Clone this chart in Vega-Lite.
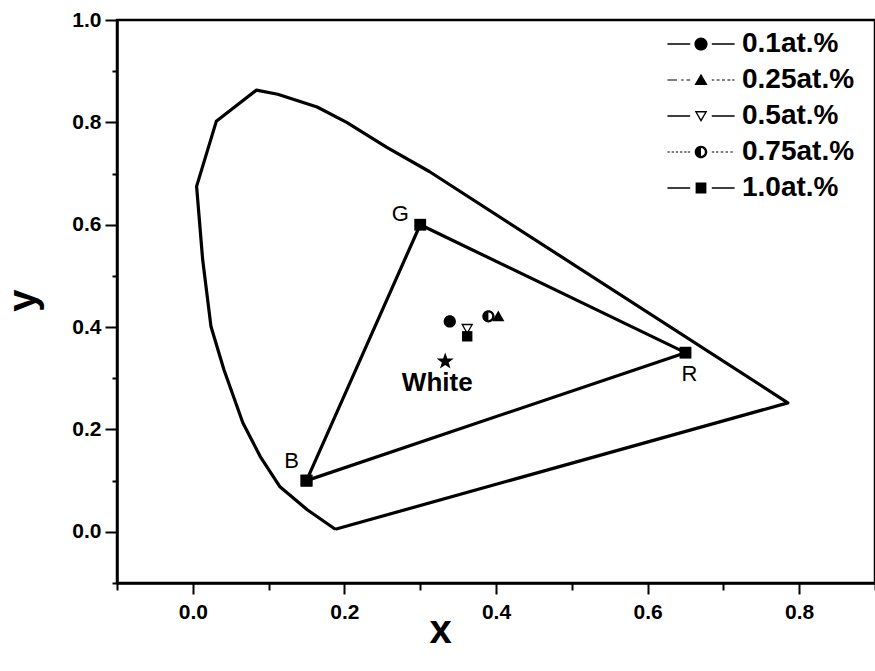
{
  "$schema": "https://vega.github.io/schema/vega-lite/v6.json",
  "autosize": "none",
  "padding": {"left": 117, "top": 20, "right": 0, "bottom": 88},
  "width": 758,
  "height": 563,
  "background": "white",
  "config": {
    "view": {"stroke": "black", "strokeWidth": 2.5},
    "font": "Liberation Sans",
    "axis": {"grid": false, "domainColor": "black", "domainWidth": 2.5, "tickColor": "black", "tickWidth": 2, "labelColor": "black", "titleColor": "black", "labelFont": "Liberation Sans", "labelFontWeight": "bold", "titleFont": "Liberation Sans", "titleFontWeight": "bold"}
  },
  "datasets": {
    "locus": [
      {"i": 0, "x": 0.188, "y": 0.005},
      {"i": 1, "x": 0.151, "y": 0.043},
      {"i": 2, "x": 0.115, "y": 0.088},
      {"i": 3, "x": 0.089, "y": 0.147},
      {"i": 4, "x": 0.066, "y": 0.213},
      {"i": 5, "x": 0.041, "y": 0.317},
      {"i": 6, "x": 0.024, "y": 0.401},
      {"i": 7, "x": 0.013, "y": 0.532},
      {"i": 8, "x": 0.005, "y": 0.675},
      {"i": 9, "x": 0.031, "y": 0.802},
      {"i": 10, "x": 0.084, "y": 0.863},
      {"i": 11, "x": 0.112, "y": 0.855},
      {"i": 12, "x": 0.164, "y": 0.830},
      {"i": 13, "x": 0.203, "y": 0.800},
      {"i": 14, "x": 0.256, "y": 0.751},
      {"i": 15, "x": 0.312, "y": 0.704},
      {"i": 16, "x": 0.785, "y": 0.252},
      {"i": 17, "x": 0.188, "y": 0.005}
    ],
    "gamut": [
      {"i": 0, "name": "B", "x": 0.15, "y": 0.10},
      {"i": 1, "name": "G", "x": 0.30, "y": 0.60},
      {"i": 2, "name": "R", "x": 0.65, "y": 0.35},
      {"i": 3, "name": "B", "x": 0.15, "y": 0.10}
    ],
    "samples": [
      {"series": "0.1at.%", "x": 0.339, "y": 0.411},
      {"series": "0.25at.%", "x": 0.403, "y": 0.421},
      {"series": "0.5at.%", "x": 0.362, "y": 0.397},
      {"series": "0.75at.%", "x": 0.390, "y": 0.421},
      {"series": "1.0at.%", "x": 0.362, "y": 0.382}
    ],
    "white": [{"label": "White", "x": 0.333, "y": 0.333}]
  },
  "encoding": {
    "x": {"field": "x", "type": "quantitative", "scale": {"domain": [-0.1, 0.9], "nice": false, "zero": false},
      "axis": {"values": [-0.1, 0, 0.1, 0.2, 0.3, 0.4, 0.5, 0.6, 0.7, 0.8, 0.9], "labelExpr": "round(datum.value*10) % 2 == 0 ? format(datum.value, '.1f') : ''", "tickSize": {"condition": {"test": "round(datum.value*10) % 2 == 0", "value": 11}, "value": 7}, "labelFontSize": 21, "labelPadding": 7, "title": "x", "titleFontSize": 40, "titleX": 323, "titleY": 47, "titleBaseline": "middle", "titleAnchor": "middle"}},
    "y": {"field": "y", "type": "quantitative", "scale": {"domain": [-0.1, 1.0], "nice": false, "zero": false},
      "axis": {"values": [-0.1, 0, 0.1, 0.2, 0.3, 0.4, 0.5, 0.6, 0.7, 0.8, 0.9, 1.0], "labelExpr": "round(datum.value*10) % 2 == 0 ? format(datum.value, '.1f') : ''", "tickSize": {"condition": {"test": "round(datum.value*10) % 2 == 0", "value": 12}, "value": 5}, "labelFontSize": 21, "labelPadding": 4, "title": "y", "titleFontSize": 40, "titleX": -74, "titleY": 280, "titleAngle": -90}}
  },
  "layer": [
    {"data": {"name": "locus"}, "mark": {"type": "line", "color": "black", "strokeWidth": 3.2, "strokeJoin": "round"}, "encoding": {"order": {"field": "i", "type": "quantitative"}}},
    {"data": {"name": "gamut"}, "mark": {"type": "line", "color": "black", "strokeWidth": 3.2}, "encoding": {"order": {"field": "i", "type": "quantitative"}}},
    {"data": {"name": "gamut"}, "mark": {"type": "point", "shape": "square", "filled": true, "color": "black", "opacity": 1, "size": 140}},
    {"data": {"name": "gamut"}, "transform": [{"filter": "datum.name == 'G' && datum.i == 1"}], "mark": {"type": "text", "fontSize": 22, "dx": -20, "dy": -11, "color": "black"}, "encoding": {"text": {"field": "name"}}},
    {"data": {"name": "gamut"}, "transform": [{"filter": "datum.name == 'R'"}], "mark": {"type": "text", "fontSize": 22, "dx": 4, "dy": 21, "color": "black"}, "encoding": {"text": {"field": "name"}}},
    {"data": {"name": "gamut"}, "transform": [{"filter": "datum.name == 'B' && datum.i == 0"}], "mark": {"type": "text", "fontSize": 22, "dx": -15, "dy": -20, "color": "black"}, "encoding": {"text": {"field": "name"}}},
    {"data": {"name": "white"}, "mark": {"type": "point", "shape": "M0,-1 L0.235,-0.324 L0.951,-0.309 L0.380,0.124 L0.588,0.809 L0,0.4 L-0.588,0.809 L-0.380,0.124 L-0.951,-0.309 L-0.235,-0.324 Z", "filled": true, "color": "black", "opacity": 1, "size": 320}},
    {"data": {"name": "white"}, "mark": {"type": "text", "fontSize": 26, "fontWeight": "bold", "dx": -8, "dy": 22, "color": "black"}, "encoding": {"text": {"field": "label"}}},
    {"data": {"name": "samples"}, "mark": {"type": "point", "filled": true, "color": "black", "opacity": 1, "size": 150},
      "encoding": {"shape": {"field": "series", "type": "nominal", "legend": null,
        "scale": {"domain": ["0.1at.%", "0.25at.%", "0.5at.%", "0.75at.%", "1.0at.%"],
          "range": ["M1,0 A1,1 0 1,1 -1,0 A1,1 0 1,1 1,0 Z", "M0,-0.95 L1,0.8 L-1,0.8 Z", "M-1,-0.8 L1,-0.8 L0,0.95 Z M-0.62,-0.56 L0,0.55 L0.62,-0.56 Z", "M0,-1 A1,1 0 0,0 0,1 Z M0,-1 A1,1 0 0,1 0,1 L0,0.62 A0.62,0.62 0 0,0 0,-0.62 Z", "M-0.85,-0.85 H0.85 V0.85 H-0.85 Z"]}}}},
    {"data": {"name": "samples"}, "mark": {"type": "point", "filled": true, "color": "black", "opacity": 0, "size": 144},
      "encoding": {"shape": {"field": "series", "type": "nominal",
        "scale": {"domain": ["0.1at.%", "0.25at.%", "0.5at.%", "0.75at.%", "1.0at.%"],
          "range": [
            "M-5.6,-0.12 H-1.8 V0.12 H-5.6 Z M1.8,-0.12 H5.6 V0.12 H1.8 Z M1.1,0 A1.1,1.1 0 1,1 -1.1,0 A1.1,1.1 0 1,1 1.1,0 Z",
            "M-5.6,-0.1 H-4 V0.1 H-5.6 Z M-3.3,-0.1 H-2.9 V0.1 H-3.3 Z M-2.4,-0.1 H-1.8 V0.1 H-2.4 Z M1.8,-0.1 H2.2 V0.1 H1.8 Z M2.6,-0.1 H3.1 V0.1 H2.6 Z M3.5,-0.1 H4 V0.1 H3.5 Z M4.4,-0.1 H4.9 V0.1 H4.4 Z M5.2,-0.1 H5.6 V0.1 H5.2 Z M0,-1.05 L1.1,0.85 L-1.1,0.85 Z",
            "M-5.6,-0.12 H-1.8 V0.12 H-5.6 Z M1.8,-0.12 H5.6 V0.12 H1.8 Z M-1.05,-0.85 L1.05,-0.85 L0,1 Z M-0.66,-0.6 L0,0.55 L0.66,-0.6 Z",
            "M-5.6,-0.08 H-5.2 V0.08 H-5.6 Z M-4.9,-0.08 H-4.5 V0.08 H-4.9 Z M-4.2,-0.08 H-3.8 V0.08 H-4.2 Z M-3.5,-0.08 H-3.1 V0.08 H-3.5 Z M-2.8,-0.08 H-2.4 V0.08 H-2.8 Z M-2.2,-0.08 H-1.8 V0.08 H-2.2 Z M1.8,-0.08 H2.2 V0.08 H1.8 Z M2.5,-0.08 H2.9 V0.08 H2.5 Z M3.3,-0.08 H3.7 V0.08 H3.3 Z M4.1,-0.08 H4.5 V0.08 H4.1 Z M4.9,-0.08 H5.3 V0.08 H4.9 Z M0,-1.05 A1.05,1.05 0 0,0 0,1.05 Z M0,-1.05 A1.05,1.05 0 0,1 0,1.05 L0,0.65 A0.65,0.65 0 0,0 0,-0.65 Z",
            "M-5.6,-0.12 H-1.8 V0.12 H-5.6 Z M1.8,-0.12 H5.6 V0.12 H1.8 Z M-0.9,-0.9 H0.9 V0.9 H-0.9 Z"
          ]},
        "legend": {"title": null, "orient": "none", "legendX": 540, "legendY": 10, "labelFontSize": 28, "labelFont": "Liberation Sans", "labelFontWeight": "bold", "labelColor": "black", "labelOffset": 27, "symbolSize": 144, "symbolOffset": 30, "rowPadding": 8, "padding": 0, "symbolFillColor": "black", "symbolStrokeWidth": 0,
          "encode": {"symbols": {"update": {"opacity": {"value": 1}, "fill": {"value": "black"}, "fillOpacity": {"value": 1}}}}}}}}
  ],
  "resolve": {"scale": {"shape": "independent"}}
}
